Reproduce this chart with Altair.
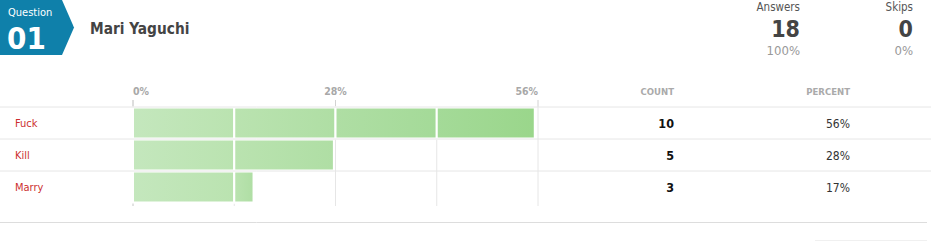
import altair as alt
import pandas as pd

# ---- survey data -------------------------------------------------------
question_no = "01"
question_title = "Mari Yaguchi"
choices = ["Fuck", "Kill", "Marry"]
counts = [10, 5, 3]
answered = 18
skipped = 0
grid_steps = [0, 14, 28, 42, 56]          # percent gridlines
axis_ticks = [0, 28, 56]                  # labelled gridlines
axis_labels = ["0%", "28%", "56%"]

# ---- layout constants --------------------------------------------------
W, H = 931, 242
X0, X1 = 133, 538
ROW_TOP, ROW_BOTTOM = 107, 203
FONT = "DejaVu Sans Condensed"
BLUE = "#0f80aa"
RED = "#cc2f2f"
GREEN_LO = (0xC4, 0xE7, 0xBD)
GREEN_HI = (0x9A, 0xD6, 0x8B)

pct = [c / answered * 100 for c in counts]
rows = pd.DataFrame({
    "choice": choices,
    "count": counts,
    "pct": pct,
    "pct_label": [f"{round(p)}%" for p in pct],
})

# split each bar into gridline-bounded segments
seg_rows = []
for ch, p in zip(choices, pct):
    for k in range(len(grid_steps) - 1):
        a, b = grid_steps[k], grid_steps[k + 1]
        if p > a:
            seg_rows.append({"choice": ch, "seg": k, "start": a, "end": min(p, b)})
segs = pd.DataFrame(seg_rows)

xs = alt.Scale(domain=[grid_steps[0], grid_steps[-1]], range=[X0, X1])
ys = alt.Scale(domain=choices, range=[ROW_TOP, ROW_BOTTOM], paddingInner=0, paddingOuter=0)
one = pd.DataFrame({"k": [0]})


def shade(v):
    t = (v - grid_steps[0]) / (grid_steps[-1] - grid_steps[0])
    r, g, b = (round(lo + (hi - lo) * t) for lo, hi in zip(GREEN_LO, GREEN_HI))
    return f"#{r:02x}{g:02x}{b:02x}"


def label(text, x, y, size, color, align="left", weight="normal", font=FONT):
    return alt.Chart(one).mark_text(
        text=text, align=align, baseline="alphabetic", fontSize=size,
        fontWeight=weight, color=color, font=font,
    ).encode(x=alt.value(x), y=alt.value(y))


layers = []

# header badge with chevron tip
badge_path = "M-1,-0.743L0.676,-0.743L1,0L0.676,0.743L-1,0.743Z"
layers.append(
    alt.Chart(one).mark_point(shape=badge_path, size=74 * 74, filled=True,
                              color=BLUE, opacity=1, strokeWidth=0)
    .encode(x=alt.value(37), y=alt.value(27.5))
)
layers.append(label("Question", 8, 16, 11, "white"))
layers.append(label(question_no, 7, 48.5, 31, "white", weight="bold"))
layers.append(label(question_title, 90, 34, 15.3, "#444444", weight="bold"))

# answered / skipped summary
layers.append(label("Answers", 800, 10.5, 11.5, "#555555", align="right"))
layers.append(label(str(answered), 800, 37, 23, "#444444", align="right", weight="bold"))
layers.append(label(f"{round(answered / (answered + skipped) * 100)}%", 800, 55, 13, "#999999", align="right"))
layers.append(label("Skips", 913, 10.5, 11.5, "#555555", align="right"))
layers.append(label(str(skipped), 913, 37, 23, "#444444", align="right", weight="bold"))
layers.append(label(f"{round(skipped / (answered + skipped) * 100)}%", 913, 55, 13, "#999999", align="right"))

# column headers
layers.append(label("COUNT", 674, 95, 9.5, "#aaaaaa", align="right", weight="bold"))
layers.append(label("PERCENT", 850, 95, 9.5, "#aaaaaa", align="right", weight="bold"))

# vertical gridlines behind the bars
grid = pd.DataFrame({"v": grid_steps})
layers.append(
    alt.Chart(grid).mark_rule(color="#e6e6e6", strokeWidth=1)
    .encode(x=alt.X("v:Q", scale=xs, axis=None), y=alt.value(ROW_TOP), y2=alt.value(206))
)
layers.append(
    alt.Chart(pd.DataFrame({"v": [grid_steps[0]]})).mark_rule(color="#d2d2d2", strokeWidth=1)
    .encode(x=alt.X("v:Q", scale=xs, axis=None), y=alt.value(100), y2=alt.value(206))
)
ticks = pd.DataFrame({"v": axis_ticks, "lab": axis_labels})
layers.append(
    alt.Chart(ticks).mark_rule(color="#d2d2d2", strokeWidth=1)
    .encode(x=alt.X("v:Q", scale=xs, axis=None), y=alt.value(100), y2=alt.value(ROW_TOP))
)
for i, al in enumerate(["left", "center", "right"]):
    layers.append(
        alt.Chart(ticks.iloc[[i]]).mark_text(align=al, baseline="alphabetic", fontSize=10.5,
                                             fontWeight="bold", color="#a8a8a8", font=FONT)
        .encode(x=alt.X("v:Q", scale=xs, axis=None), y=alt.value(95), text="lab:N")
    )

# bar segments, each shaded as part of one continuous green ramp
for k in range(len(grid_steps) - 1):
    grad = alt.Gradient(
        gradient="linear",
        stops=[alt.GradientStop(color=shade(grid_steps[k]), offset=0),
               alt.GradientStop(color=shade(grid_steps[k + 1]), offset=1)],
        x1=0, x2=1, y1=0, y2=0,
    )
    part = segs[segs["seg"] == k]
    if part.empty:
        continue
    layers.append(
        alt.Chart(part).mark_bar(size=31, color=grad, stroke="white", strokeWidth=2)
        .encode(
            x=alt.X("start:Q", scale=xs, axis=None),
            x2="end:Q",
            y=alt.Y("choice:N", scale=ys, axis=None),
        )
    )

# row separators
sep = pd.DataFrame({"yy": [107, 139, 171]})
layers.append(
    alt.Chart(sep).mark_rule(color="#e6e6e6", strokeWidth=1)
    .encode(y=alt.Y("yy:Q", scale=None, axis=None), x=alt.value(0), x2=alt.value(W))
)
layers.append(
    alt.Chart(one).mark_rule(color="#dddddd", strokeWidth=1)
    .encode(y=alt.value(222.5), x=alt.value(0), x2=alt.value(927))
)
layers.append(
    alt.Chart(one).mark_rule(color="#f0f0f0", strokeWidth=1)
    .encode(y=alt.value(240.5), x=alt.value(815), x2=alt.value(927))
)

# row texts
layers.append(
    alt.Chart(rows).mark_text(align="left", baseline="middle", fontSize=11, color=RED, font=FONT, dy=1)
    .encode(x=alt.value(15), y=alt.Y("choice:N", scale=ys, axis=None), text="choice:N")
)
layers.append(
    alt.Chart(rows).mark_text(align="right", baseline="middle", fontSize=12.5, fontWeight="bold",
                              color="#111111", font=FONT, dy=1)
    .encode(x=alt.value(674), y=alt.Y("choice:N", scale=ys, axis=None), text="count:Q")
)
layers.append(
    alt.Chart(rows).mark_text(align="right", baseline="middle", fontSize=12, color="#333333", font=FONT, dy=1)
    .encode(x=alt.value(850), y=alt.Y("choice:N", scale=ys, axis=None), text="pct_label:N")
)

chart = (
    alt.layer(*layers)
    .properties(width=W, height=H, padding=0, autosize="none", background="white")
    .configure_view(stroke=None)
)

chart.save("out.html", embed_options={"renderer": "svg", "actions": False})
